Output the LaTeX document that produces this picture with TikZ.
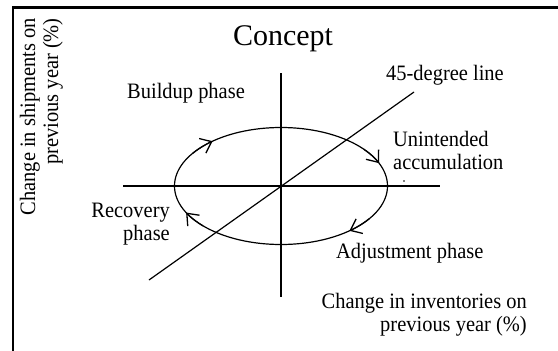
\documentclass[tikz,border=0pt]{standalone}
\usepackage{fontspec}
\setmainfont{Liberation Serif}
\newfontfamily\lblfont{Liberation Serif}[FakeStretch=0.93]
\usetikzlibrary{arrows.meta}

\begin{document}
\begin{tikzpicture}[x=1pt, y=-1pt,
  lbl/.style={font=\lblfont\fontsize{22}{23}\selectfont, inner sep=0pt},
  axisline/.style={black, line width=1.2pt},
  flow/.style={black, line width=1.2pt, -{Straight Barb[length=10pt, width=16pt, line width=1.3pt]}}]
  \useasboundingbox (0,0) rectangle (558,351);
  \draw[black, line width=2.3pt] (13,351) -- (13,7.5) -- (558,7.5);
  \coordinate (origin) at (281,186);
  \coordinate (xleft) at (123,186);
  \coordinate (xright) at (440,186);
  \coordinate (ytop) at (281,73);
  \coordinate (ybottom) at (281,297);
  \coordinate (lineA) at (149,280);
  \coordinate (lineB) at (414,92);
  \draw[axisline] (xleft) -- (xright);
  \draw[axisline] (ytop) -- (ybottom);
  \draw[axisline] (lineA) -- (lineB);
  \draw[axisline] (origin) ellipse [x radius=106.5, y radius=58.5];
  \draw[flow] (origin) ++(214:106.5 and 58.5) arc[start angle=214, end angle=230, x radius=106.5, y radius=58.5];
  \draw[flow] (origin) ++(321:106.5 and 58.5) arc[start angle=321, end angle=337, x radius=106.5, y radius=58.5];
  \draw[flow] (origin) ++(34:106.5 and 58.5) arc[start angle=34, end angle=50, x radius=106.5, y radius=58.5];
  \draw[flow] (origin) ++(137:106.5 and 58.5) arc[start angle=137, end angle=153, x radius=106.5, y radius=58.5];
  \fill[black] (404,181) circle (0.9);
  \node[lbl, font=\fontsize{30}{34}\selectfont, anchor=base] (title) at (283,45) {Concept};
  \node[lbl, anchor=base east, align=right, rotate=90] (ylabel) at (58,18) {Change in shipments on\\previous year (\%)};
  \node[lbl, anchor=base west] (buildup) at (127,98) {Buildup phase};
  \node[lbl, anchor=base west] (degline) at (386,80) {45-degree line};
  \node[lbl, anchor=base west, align=left] (unintended) at (393,169) {Unintended\\accumulation};
  \node[lbl, anchor=base east, align=right] (recovery) at (170,240) {Recovery\\phase};
  \node[lbl, anchor=base west] (adjust) at (336,258) {Adjustment phase};
  \node[lbl, anchor=base east, align=right] (xlabel) at (527,331) {Change in inventories on\\previous year (\%)};
\end{tikzpicture}
\end{document}
